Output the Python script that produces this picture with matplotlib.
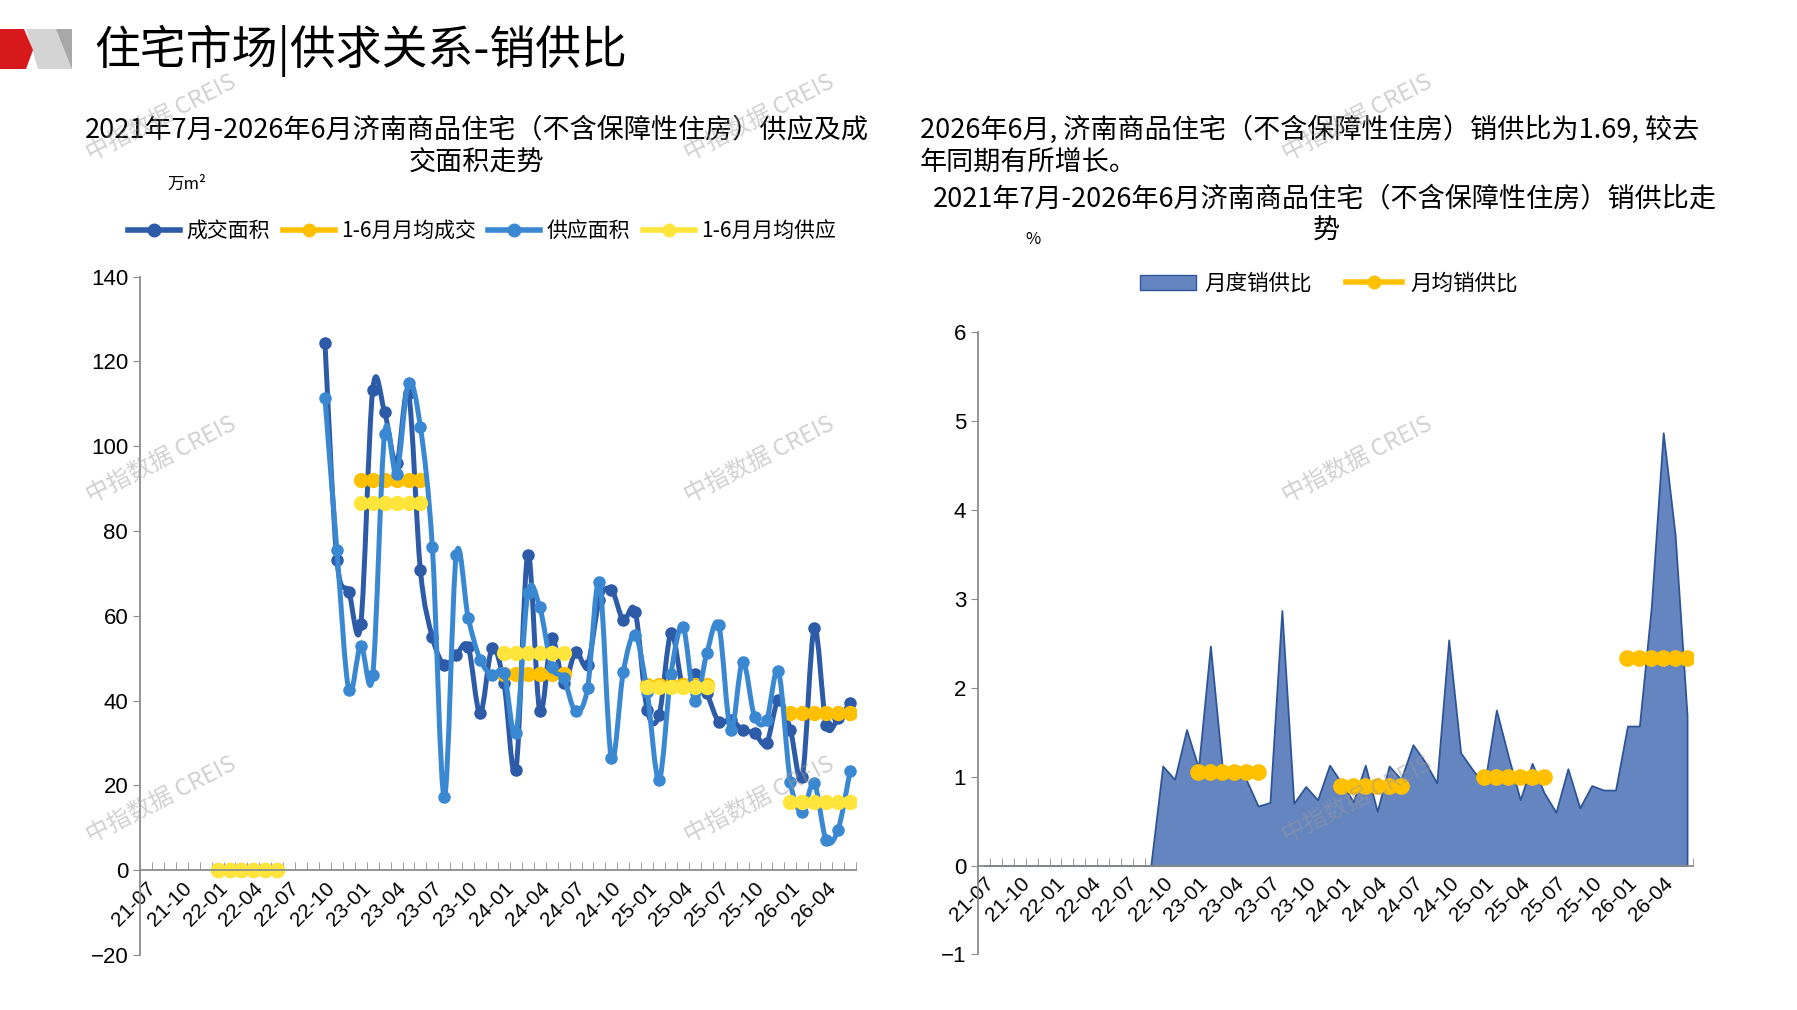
import numpy as np
import matplotlib
matplotlib.use("Agg")
import matplotlib.pyplot as plt
from matplotlib.path import Path
from matplotlib.patches import PathPatch, Polygon, Patch
from matplotlib.lines import Line2D

plt.rcParams['font.family'] = ['Noto Sans CJK SC', 'DejaVu Sans']
plt.rcParams['axes.unicode_minus'] = True

# month categories 21-07 .. 26-06
months = [f"{(2021 + (6 + i) // 12) % 100:02d}-{(6 + i) % 12 + 1:02d}" for i in range(60)]
tick_labels = months[::3]

# 成交面积 (万m2), no data before 22-10
deal = [None] * 15 + [
    124.3, 73.2, 65.7, 58.0, 113.3, 108.0, 96.0, 112.6, 70.7, 55.0,
    48.5, 50.8, 52.7, 37.0, 52.3, 44.1, 23.6, 74.4, 37.5, 54.8,
    44.1, 51.5, 48.4, 63.7, 66.2, 59.0, 61.0, 37.8, 36.6, 55.9,
    43.3, 46.4, 41.7, 35.0, 35.5, 33.1, 32.3, 29.9, 40.2, 33.1,
    22.1, 57.1, 34.3, 35.8, 39.4]

# 供应面积 (万m2)
supply = [None] * 15 + [
    111.3, 75.5, 42.5, 53.0, 46.0, 103.0, 93.5, 114.9, 104.5, 76.2,
    17.2, 74.3, 59.6, 49.7, 46.1, 46.5, 32.3, 65.3, 62.0, 48.0,
    45.3, 37.5, 42.9, 68.1, 26.4, 46.8, 55.5, 42.0, 21.3, 46.4,
    57.4, 39.8, 51.2, 57.8, 33.0, 49.2, 36.2, 35.4, 46.9, 20.9,
    13.8, 20.5, 7.1, 9.6, 23.3]

# 1-6月月均 (first half of each year)
half_years = ['22', '23', '24', '25', '26']
avg_deal = [0, 92.1, 46.4, 43.6, 37.0]
avg_supply = [0, 86.7, 51.2, 43.3, 16.2]

# 销供比
ratio = [0] * 15 + [
    1.12, 0.97, 1.53, 1.10, 2.47, 1.10, 1.02, 0.97, 0.67, 0.71,
    2.87, 0.70, 0.89, 0.74, 1.13, 0.93, 0.72, 1.13, 0.61, 1.12,
    0.97, 1.36, 1.17, 0.93, 2.54, 1.27, 1.08, 0.91, 1.75, 1.23,
    0.74, 1.15, 0.82, 0.60, 1.09, 0.65, 0.90, 0.85, 0.85, 1.57,
    1.57, 2.91, 4.87, 3.72, 1.69]
ratio_years = ['23', '24', '25', '26']
avg_ratio = [1.05, 0.90, 1.00, 2.34]

C_DEAL = '#2E5BA8'
C_SUPPLY = '#3B88D2'
C_AVG_DEAL = '#FFC000'
C_AVG_SUPPLY = '#FFE53B'
C_AREA = '#6585C0'
C_EDGE = '#2F5597'
C_AXIS = '#8C8C8C'
NUM_FONT = ['Liberation Sans', 'DejaVu Sans']

W, H = 1797, 1010
fig = plt.figure(figsize=(W / 100, H / 100), dpi=100)


def fx(px):
    return px / W


def fy(py):
    return 1 - py / H


def smooth_path(xs, ys):
    pts = np.column_stack([xs, ys])
    verts = [pts[0]]
    codes = [Path.MOVETO]
    n = len(pts)
    for i in range(n - 1):
        p0 = pts[i - 1] if i > 0 else pts[i]
        p1, p2 = pts[i], pts[i + 1]
        p3 = pts[i + 2] if i + 2 < n else pts[i + 1]
        verts += [p1 + (p2 - p0) / 6, p2 - (p3 - p1) / 6, p2]
        codes += [Path.CURVE4] * 3
    return Path(verts, codes)


def half_year_idx(yy):
    return [months.index(f"{yy}-{m:02d}") for m in range(1, 7)]


def style_axis(ax):
    for s in ['top', 'right']:
        ax.spines[s].set_visible(False)
    ax.spines['left'].set_color(C_AXIS)
    ax.spines['left'].set_linewidth(1.3)
    ax.spines['bottom'].set_color(C_AXIS)
    ax.spines['bottom'].set_linewidth(1.3)
    ax.spines['bottom'].set_position(('data', 0))
    ax.spines['bottom'].set_zorder(6)
    ax.set_xticks(range(0, 60, 3))
    ax.set_xticklabels(tick_labels, rotation=45, ha='right', rotation_mode='anchor',
                       fontsize=15, family=NUM_FONT)
    ax.set_xticks(np.arange(-0.5, 60, 1), minor=True)
    ax.tick_params(axis='x', which='major', length=0, pad=6)
    ax.tick_params(axis='x', which='minor', length=6, direction='in', color=C_AXIS)
    ax.tick_params(axis='y', length=5, color=C_AXIS, labelsize=16)
    for lab in ax.get_yticklabels():
        lab.set_family(NUM_FONT)


# ---------------- left chart ----------------
ax1 = fig.add_axes([fx(140), fy(955), fx(856) - fx(140), fy(276.7) - fy(955)])
ax1.set_xlim(-0.5, 59.5)
ax1.set_ylim(-20, 140)
ax1.set_yticks(range(-20, 141, 20))
style_axis(ax1)

x = np.arange(60)
deal_a = np.array(deal, dtype=float)
supply_a = np.array(supply, dtype=float)


def draw_series(ax, vals, color, z):
    ok = ~np.isnan(vals)
    ax.add_patch(PathPatch(smooth_path(x[ok], vals[ok]), fill=False, edgecolor=color,
                           lw=3.6, capstyle='round', joinstyle='round', zorder=z))
    ax.plot(x[ok], vals[ok], 'o', ms=8, color=color, zorder=z)


def draw_avg(ax, years, vals, color, z):
    for yy, v in zip(years, vals):
        idx = half_year_idx(yy)
        ax.plot(idx, [v] * 6, '-o', color=color, lw=4, ms=10, zorder=z)


draw_series(ax1, deal_a, C_DEAL, 2)
draw_avg(ax1, half_years, avg_deal, C_AVG_DEAL, 3)
draw_series(ax1, supply_a, C_SUPPLY, 4)
draw_avg(ax1, half_years, avg_supply, C_AVG_SUPPLY, 5)

h1 = [Line2D([], [], color=c, lw=4, marker='o', ms=9)
      for c in [C_DEAL, C_AVG_DEAL, C_SUPPLY, C_AVG_SUPPLY]]
fig.legend(h1, ['成交面积', '1-6月月均成交', '供应面积', '1-6月月均供应'],
           loc='center', bbox_to_anchor=(fx(482), fy(231)), ncol=4, frameon=False,
           fontsize=15, handlelength=2.5, handletextpad=0.3, columnspacing=0.6)

# ---------------- right chart ----------------
ax2 = fig.add_axes([fx(978), fy(954.5), fx(1693) - fx(978), fy(332.3) - fy(954.5)])
ax2.set_xlim(0, 59.5)
ax2.set_ylim(-1, 6)
ax2.set_yticks(range(-1, 7))
style_axis(ax2)
ax2.fill_between(x, 0, ratio, facecolor=C_AREA, edgecolor=C_EDGE, lw=1.3, zorder=2)
for yy, v in zip(ratio_years, avg_ratio):
    ax2.plot(half_year_idx(yy), [v] * 6, '-o', color=C_AVG_DEAL, lw=4, ms=11, zorder=4)

h2 = [Patch(facecolor=C_AREA, edgecolor=C_EDGE),
      Line2D([], [], color=C_AVG_DEAL, lw=4, marker='o', ms=9)]
fig.legend(h2, ['月度销供比', '月均销供比'], loc='center',
           bbox_to_anchor=(fx(1329), fy(284)), ncol=2, frameon=False,
           fontsize=15.5, handlelength=2.6, handletextpad=0.4, columnspacing=1.6)

# ---------------- texts ----------------
fig.text(fx(94), fy(51), '住宅市场|供求关系-销供比', fontsize=33, va='center', ha='left')
fig.text(fx(477), fy(130), '2021年7月-2026年6月济南商品住宅（不含保障性住房）供应及成',
         fontsize=19.5, ha='center', va='center')
fig.text(fx(477), fy(163), '交面积走势', fontsize=19.5, ha='center', va='center')
fig.text(fx(187), fy(184), '万m²', fontsize=12, ha='center', va='center')

fig.text(fx(920), fy(130), '2026年6月, 济南商品住宅（不含保障性住房）销供比为1.69, 较去',
         fontsize=19.5, ha='left', va='center')
fig.text(fx(920), fy(163), '年同期有所增长。', fontsize=19.5, ha='left', va='center')
fig.text(fx(1325), fy(199), '2021年7月-2026年6月济南商品住宅（不含保障性住房）销供比走',
         fontsize=19.5, ha='center', va='center')
fig.text(fx(1326), fy(231), '势', fontsize=19.5, ha='center', va='center')
fig.text(fx(1033), fy(240), '%', fontsize=12, ha='center', va='center')

# logo
fig.add_artist(Polygon([(fx(26), fy(29)), (fx(60), fy(29)), (fx(72), fy(50)),
                        (fx(72), fy(69)), (fx(38), fy(69))],
                       closed=True, transform=fig.transFigure, facecolor='#D4D4D4', edgecolor='none'))
fig.add_artist(Polygon([(fx(56), fy(29)), (fx(72), fy(29)), (fx(72), fy(69))],
                       closed=True, transform=fig.transFigure, facecolor='#A8A8A8', edgecolor='none'))
fig.add_artist(Polygon([(fx(0), fy(29)), (fx(24), fy(29)), (fx(33), fy(50)),
                        (fx(26), fy(69)), (fx(0), fy(69))],
                       closed=True, transform=fig.transFigure, facecolor='#D7191C', edgecolor='none'))

# watermarks
for wx in [161, 759, 1357]:
    for wy in [118, 460, 800]:
        fig.text(fx(wx), fy(wy), '中指数据 CREIS', fontsize=17, color='#9A9A9A', alpha=0.45,
                 rotation=27, ha='center', va='center', zorder=10)

fig.savefig('out.png', dpi=100)
